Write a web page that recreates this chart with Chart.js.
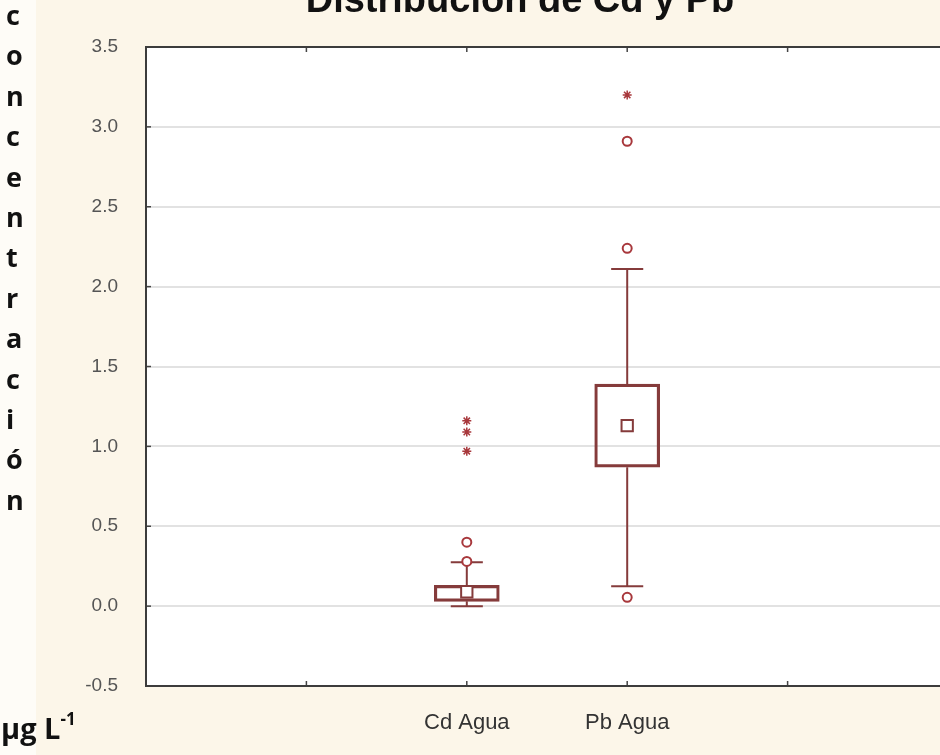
<!DOCTYPE html>
<html>
<head>
<meta charset="utf-8">
<script src="https://cdn.jsdelivr.net/npm/chart.js@4.4.1/dist/chart.umd.min.js"></script>
<style>
  html, body { margin: 0; padding: 0; background: #fcf6e9; }
  #wrap { position: relative; width: 940px; height: 755px; overflow: hidden; background: #fcf6e9; }
  #strip { position: absolute; left: 0; top: 0; width: 36px; height: 755px; background: #fefcf7; }
  #chart { position: absolute; left: 0; top: 0; }
  #title {
    position: absolute; left: 0; width: 1040px; top: -21px; text-align: center;
    font: bold 38px "Liberation Sans", Arial, sans-serif; color: #111; line-height: 40px;
  }
  #ylab {
    position: absolute; left: 6px; top: -5px; width: 30px;
    font: bold 27px "Open Sans", "Liberation Sans", sans-serif; color: #111; line-height: 40.4px;
  }
  #unit {
    position: absolute; left: 1px; top: 704px;
    font: bold 29px "Open Sans", "Liberation Sans", sans-serif; color: #111; line-height: 36px;
  }
  #unit sup { font-size: 17px; position: relative; top: -3px; }
</style>
</head>
<body>
<div id="wrap">
  <div id="strip"></div>
  <canvas id="chart" width="960" height="755"></canvas>
  <div id="title">Distribución de Cd y Pb</div>
  <div id="ylab"></div>
  <div id="unit">µg L<sup>-1</sup></div>
</div>
<script>
/* ===========================
Data
=========================== */

const categories = ["Cd Agua", "Pb Agua"];
const catPos = [2, 3];

const q1 = [0.03, 0.87];
const q3 = [0.13, 1.39];
const medians = [0.09, 1.13];
const whiskLow = [0.0, 0.125];
const whiskHigh = [0.275, 2.11];

const outliers = [[0.28, 0.40], [0.055, 2.24, 2.91]];
const extremes = [[0.97, 1.09, 1.16], [3.2]];

const yTicks = [-0.5, 0.0, 0.5, 1.0, 1.5, 2.0, 2.5, 3.0, 3.5];
const xTicks = [1, 2, 3, 4];

const yTitle = "concentración";

/* ===========================
Vertical axis title
=========================== */

document.getElementById("ylab").innerHTML =
    yTitle.split("").map(ch => "<div>" + ch + "</div>").join("");

/* ===========================
Datasets
=========================== */

const boxColor = "#853b3b";
const dotColor = "#a8383c";
const capHalf = 0.1;

const datasets = [];

datasets.push({
    type: "bar",
    data: catPos.map((x, i) => ({ x: x, y: [q1[i], q3[i]] })),
    backgroundColor: "rgba(255,255,255,0)",
    borderColor: boxColor,
    borderWidth: 2.5,
    borderSkipped: false,
    barThickness: 65,
    order: 3
});

function segment(points) {
    datasets.push({
        type: "scatter",
        data: points,
        showLine: true,
        borderColor: boxColor,
        borderWidth: 2,
        pointRadius: 0,
        order: 2
    });
}

catPos.forEach((x, i) => {
    segment([{ x: x, y: q3[i] }, { x: x, y: whiskHigh[i] }]);
    segment([{ x: x, y: q1[i] }, { x: x, y: whiskLow[i] }]);
    segment([{ x: x - capHalf, y: whiskHigh[i] }, { x: x + capHalf, y: whiskHigh[i] }]);
    segment([{ x: x - capHalf, y: whiskLow[i] }, { x: x + capHalf, y: whiskLow[i] }]);
});

datasets.push({
    type: "scatter",
    data: catPos.map((x, i) => ({ x: x, y: medians[i] })),
    pointStyle: "rect",
    pointRadius: 8,
    backgroundColor: "#ffffff",
    borderColor: boxColor,
    borderWidth: 2,
    order: 1
});

datasets.push({
    type: "scatter",
    data: catPos.flatMap((x, i) => outliers[i].map(v => ({ x: x, y: v }))),
    pointStyle: "circle",
    pointRadius: 4.5,
    backgroundColor: "#ffffff",
    borderColor: dotColor,
    borderWidth: 2,
    order: 0
});

datasets.push({
    type: "scatter",
    data: catPos.flatMap((x, i) => extremes[i].map(v => ({ x: x, y: v }))),
    pointStyle: "star",
    pointRadius: 4.5,
    borderColor: dotColor,
    borderWidth: 1.5,
    order: 0
});

// inward tick marks on the frame
datasets.push({
    type: "scatter",
    data: xTicks.flatMap(x => [{ x: x, y: yTicks[0] }, { x: x, y: yTicks[yTicks.length - 1] }]),
    pointStyle: "line",
    rotation: 90,
    pointRadius: 5,
    borderColor: "#444",
    borderWidth: 1.5,
    order: 5
});

datasets.push({
    type: "scatter",
    data: yTicks.map(v => ({ x: 0, y: v })),
    pointStyle: "line",
    pointRadius: 5,
    borderColor: "#444",
    borderWidth: 1.5,
    order: 5
});

/* ===========================
Plot frame
=========================== */

const frame = {
    id: "frame",
    beforeDraw(chart) {
        const a = chart.chartArea;
        const c = chart.ctx;
        c.save();
        c.fillStyle = "#ffffff";
        c.fillRect(a.left, a.top, a.right - a.left, a.bottom - a.top);
        c.restore();
    },
    afterDraw(chart) {
        const a = chart.chartArea;
        const c = chart.ctx;
        c.save();
        c.strokeStyle = "#3c3c3c";
        c.lineWidth = 2;
        c.strokeRect(a.left, a.top, a.right - a.left, a.bottom - a.top);
        c.restore();
    }
};

/* ===========================
Chart
=========================== */

new Chart(document.getElementById("chart"), {

    data: { datasets: datasets },

    options: {

        responsive: false,

        animation: false,

        layout: {
            padding: { top: 47, right: 12, left: 0, bottom: 0 }
        },

        plugins: {
            legend: { display: false },
            tooltip: { enabled: false }
        },

        scales: {

            x: {
                type: "linear",
                min: 0,
                max: 5,
                offset: false,
                afterFit: s => { s.height = 69; },
                afterBuildTicks: s => { s.ticks = catPos.map(v => ({ value: v })); },
                ticks: {
                    padding: 16,
                    color: "#333",
                    font: { family: "'Liberation Sans Narrow', 'Liberation Sans', Arial", size: 22 },
                    callback: v => categories[catPos.indexOf(v)] || ""
                },
                grid: { display: false },
                border: { display: false }
            },

            y: {
                min: -0.5,
                max: 3.5,
                afterFit: s => { s.width = 146; },
                afterBuildTicks: s => { s.ticks = yTicks.map(v => ({ value: v })); },
                ticks: {
                    padding: 28,
                    color: "#555",
                    font: { family: "'Liberation Sans', Arial", size: 19 },
                    callback: v => v.toFixed(1)
                },
                grid: {
                    color: "#e2e2e2",
                    lineWidth: 2,
                    drawTicks: false
                },
                border: { display: false }
            }
        }
    },

    plugins: [frame]

});
</script>
</body>
</html>
